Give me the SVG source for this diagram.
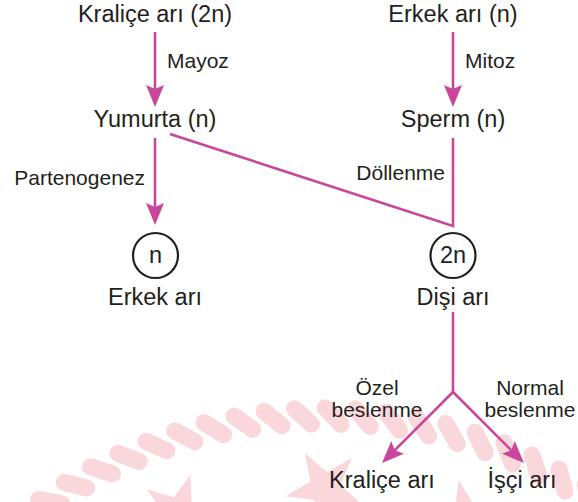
<svg xmlns="http://www.w3.org/2000/svg" xmlns:xlink="http://www.w3.org/1999/xlink" width="578" height="502" viewBox="0 0 578 502">
<style>
.t{font-family:"Liberation Sans",Arial,Helvetica,sans-serif;fill:#231f20;text-anchor:middle}
.big{font-size:23.5px}
.sm{font-size:21px}
.st{text-anchor:start}
.en{text-anchor:end}
.ln{stroke:#c9469a;stroke-width:2.6;fill:none}
.ar{marker-end:url(#ah)}
.ring{fill:none;stroke:#231f20;stroke-width:2.2}
.wm{fill:#f9d7da}
</style>
<defs>
<marker id="ah" viewBox="0 0 22 18" refX="12" refY="9" markerWidth="22" markerHeight="18" markerUnits="userSpaceOnUse" orient="auto">
<path d="M0,0 L22,9 L0,18 L4,9 Z" fill="#c9469a"/>
</marker>
<rect id="bead" x="303" y="407.5" width="40" height="17" rx="8.5" transform="rotate(45 323 416)"/>
<polygon id="star" points="0,-50 11.8,-16.2 47.6,-15.5 19,6.2 29.4,40.5 0,20 -29.4,40.5 -19,6.2 -47.6,-15.5 -11.8,-16.2"/>
</defs>
<rect width="578" height="502" fill="#ffffff"/>
<g id="watermark" class="wm">
<use xlink:href="#bead" href="#bead" transform="rotate(-38.4 323 894)"/>
<use xlink:href="#bead" href="#bead" transform="rotate(-34.8 323 894)"/>
<use xlink:href="#bead" href="#bead" transform="rotate(-31.2 323 894)"/>
<use xlink:href="#bead" href="#bead" transform="rotate(-27.6 323 894)"/>
<use xlink:href="#bead" href="#bead" transform="rotate(-24 323 894)"/>
<use xlink:href="#bead" href="#bead" transform="rotate(-20.4 323 894)"/>
<use xlink:href="#bead" href="#bead" transform="rotate(-16.8 323 894)"/>
<use xlink:href="#bead" href="#bead" transform="rotate(-13.2 323 894)"/>
<use xlink:href="#bead" href="#bead" transform="rotate(-9.6 323 894)"/>
<use xlink:href="#bead" href="#bead" transform="rotate(-6 323 894)"/>
<use xlink:href="#bead" href="#bead" transform="rotate(-2.4 323 894)"/>
<use xlink:href="#bead" href="#bead" transform="rotate(1.2 323 894)"/>
<use xlink:href="#bead" href="#bead" transform="rotate(4.8 323 894)"/>
<use xlink:href="#bead" href="#bead" transform="rotate(8.4 323 894)"/>
<use xlink:href="#bead" href="#bead" transform="rotate(12 323 894)"/>
<use xlink:href="#bead" href="#bead" transform="rotate(15.6 323 894)"/>
<use xlink:href="#bead" href="#bead" transform="rotate(19.2 323 894)"/>
<use xlink:href="#bead" href="#bead" transform="rotate(22.8 323 894)"/>
<use xlink:href="#bead" href="#bead" transform="rotate(26.4 323 894)"/>
<use xlink:href="#bead" href="#bead" transform="rotate(30 323 894)"/>
<use xlink:href="#bead" href="#bead" transform="rotate(33.6 323 894)"/>
<use xlink:href="#bead" href="#bead" transform="rotate(37.2 323 894)"/>
<use xlink:href="#star" href="#star" transform="translate(179 512) rotate(17) scale(0.78)"/>
<use xlink:href="#star" href="#star" transform="translate(325 488) rotate(186) scale(0.8)"/>
<use xlink:href="#star" href="#star" transform="translate(468 524) rotate(-12) scale(0.9)"/>
</g>
<g id="connectors">
<line class="ln ar" x1="155" y1="32" x2="155" y2="97"/>
<line class="ln ar" x1="453" y1="32" x2="453" y2="97"/>
<line class="ln ar" x1="155" y1="138" x2="155" y2="215"/>
<polyline class="ln" points="170,134 453,226 453,138"/>
<line class="ln" x1="453" y1="312" x2="453" y2="392"/>
<line class="ln ar" x1="453" y1="392" x2="389.1" y2="455.9"/>
<line class="ln ar" x1="453" y1="392" x2="516.9" y2="455.9"/>
</g>
<g id="labels">
<text class="t sm st" x="167" y="68">Mayoz</text>
<text class="t sm st" x="465" y="68">Mitoz</text>
<text class="t sm en" x="145" y="185">Partenogenez</text>
<text class="t sm en" x="445" y="180">Döllenme</text>
<text class="t sm" x="377" y="395">Özel</text>
<text class="t sm" x="377" y="417">beslenme</text>
<text class="t sm" x="530" y="395">Normal</text>
<text class="t sm" x="530" y="417">beslenme</text>
</g>
<g id="kralice-2n"><text class="t big" x="155" y="22">Kraliçe arı (2n)</text></g>
<g id="erkek-n"><text class="t big" x="453" y="22">Erkek arı (n)</text></g>
<g id="yumurta"><text class="t big" x="155" y="127">Yumurta (n)</text></g>
<g id="sperm"><text class="t big" x="453" y="127">Sperm (n)</text></g>
<g id="erkek-ari">
<circle class="ring" cx="155.5" cy="255.5" r="22.5"/>
<text class="t big" x="155.5" y="263">n</text>
<text class="t big" x="155" y="305">Erkek arı</text>
</g>
<g id="disi-ari">
<circle class="ring" cx="453" cy="255.5" r="22.5"/>
<text class="t big" x="453" y="263">2n</text>
<text class="t big" x="453" y="305">Dişi arı</text>
</g>
<g id="kralice-ari"><text class="t big" x="382" y="488">Kraliçe arı</text></g>
<g id="isci-ari"><text class="t big" x="522" y="488">İşçi arı</text></g>
</svg>
